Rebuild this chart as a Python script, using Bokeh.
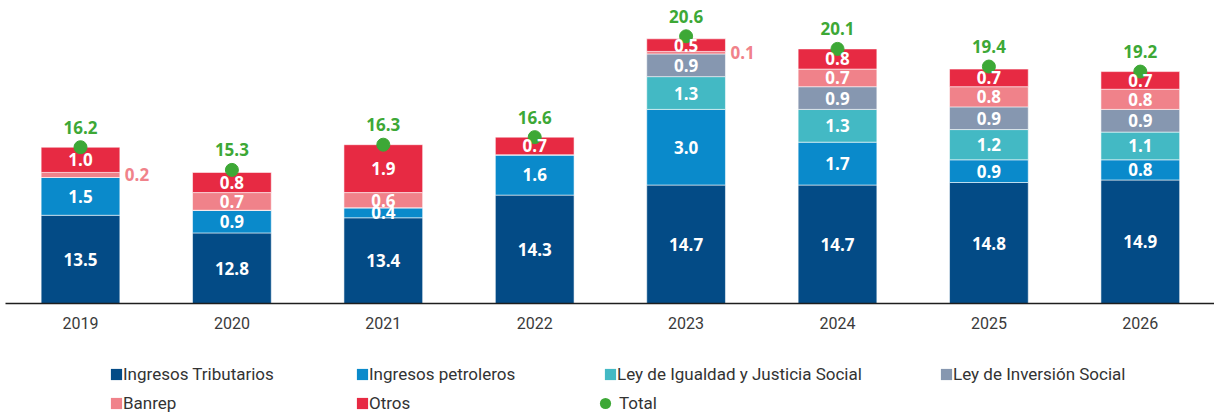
from bokeh.plotting import figure
from bokeh.layouts import column
from bokeh.models import ColumnDataSource, Range1d, FixedTicker, Legend, LegendItem
from bokeh.embed import file_html
from bokeh.resources import INLINE
from bokeh.core.properties import value

years = [2019, 2020, 2021, 2022, 2023, 2024, 2025, 2026]
tributarios = [13.5, 12.8, 13.4, 14.3, 14.7, 14.7, 14.8, 14.9]
petroleros = [1.5, 0.9, 0.4, 1.6, 3.0, 1.7, 0.9, 0.8]
igualdad = [0, 0, 0, 0, 1.3, 1.3, 1.2, 1.1]
inversion = [0, 0, 0, 0, 0.9, 0.9, 0.9, 0.9]
banrep = [0.2, 0.7, 0.6, 0, 0.1, 0.7, 0.8, 0.8]
otros = [1.0, 0.8, 1.9, 0.7, 0.5, 0.8, 0.7, 0.7]
total = [16.2, 15.3, 16.3, 16.6, 20.6, 20.1, 19.4, 19.2]

series_keys = ["trib", "petro", "igual", "inver", "banrep", "otros"]
series_names = ["Ingresos Tributarios", "Ingresos petroleros",
                "Ley de Igualdad y Justicia Social", "Ley de Inversión Social",
                "Banrep", "Otros"]
series_vals = [tributarios, petroleros, igualdad, inversion, banrep, otros]
colors = ["#034b86", "#0a8acb", "#43b9c4", "#8697b0", "#f0828a", "#e72a43"]
green = "#3da836"
pink = "#f0828a"

FONT = "Open Sans"
LFONT = "Roboto"

data = {"x": years}
for k, v in zip(series_keys, series_vals):
    data[k] = v
src = ColumnDataSource(data)

Y0 = 10
p = figure(width=1214, height=355,
           x_range=Range1d(2018.5046, 2026.4901), y_range=Range1d(Y0, 22.02),
           output_backend="svg", toolbar_location=None,
           min_border_left=5, min_border_right=0, min_border_top=0, min_border_bottom=52,
           y_axis_location=None, outline_line_color=None)
p.xgrid.visible = False
p.ygrid.visible = False

bar_w = 0.52
rends = p.vbar_stack(series_keys, x="x", width=bar_w, source=src,
                     fill_color=colors, line_color="white", line_width=0.8, line_alpha=0.7)

# segment labels (centred on the visible part of each segment)
lx, ly, lt = [], [], []
ox, oy, ot = [], [], []
for i, yr in enumerate(years):
    cum = 0.0
    for k, vals in zip(series_keys, series_vals):
        v = vals[i]
        if v > 0:
            c = (max(cum, Y0) + cum + v) / 2
            if k == "banrep" and v < 0.3:
                ox.append(yr + bar_w / 2); oy.append(c); ot.append(f"{v:.1f}")
            else:
                lx.append(yr); ly.append(c); lt.append(f"{v:.1f}")
        cum += v

t1 = p.text(x=lx, y=ly, text=lt, text_align="center", text_baseline="middle",
            text_color="white", text_font=value(FONT), text_font_style="bold",
            text_font_size="17px")
t1.level = "overlay"
t2 = p.text(x=ox, y=oy, text=ot, text_align="left", text_baseline="middle",
            x_offset=5, text_color=pink, text_font=value(FONT), text_font_style="bold",
            text_font_size="17px")
t2.level = "overlay"

dots = p.scatter(x=years, y=total, size=13, color=green)
t3 = p.text(x=years, y=total, text=[f"{v:.1f}" for v in total], y_offset=-20,
            text_align="center", text_baseline="middle", text_color=green,
            text_font=value(FONT), text_font_style="bold", text_font_size="17px")
t3.level = "overlay"

ax = p.xaxis[0]
ax.ticker = FixedTicker(ticks=years)
ax.major_label_text_font = LFONT
ax.major_label_text_font_size = "16px"
ax.major_label_text_color = "#3a3a3a"
ax.axis_line_color = "#1e1e1e"
ax.axis_line_width = 1.5
ax.major_tick_line_color = None
ax.minor_tick_line_color = None
ax.major_label_standoff = 7

# legend strip (swatch glyphs sit outside its visible ranges; only the legend shows)
lg = figure(width=1214, height=60, x_range=Range1d(0, 1), y_range=Range1d(0, 1),
            output_backend="svg", toolbar_location=None,
            min_border_left=0, min_border_right=0, min_border_top=0, min_border_bottom=0,
            x_axis_location=None, y_axis_location=None, outline_line_color=None)
lg.xgrid.visible = False
lg.ygrid.visible = False
swatch = {}
for name, c in zip(series_names, colors):
    swatch[name] = lg.vbar(x=[-5], top=[-5], bottom=[-6], width=0.1,
                           fill_color=c, line_color=None)
swatch["Total"] = lg.scatter(x=[-5], y=[-5], size=5, marker="circle",
                             fill_color=green, line_color=None)

# (name, x of swatch box, row)
legend_pos = [
    ("Ingresos Tributarios", 104, 0),
    ("Ingresos petroleros", 350, 0),
    ("Ley de Igualdad y Justicia Social", 598, 0),
    ("Ley de Inversión Social", 934, 0),
    ("Banrep", 104, 1),
    ("Otros", 350, 1),
]
ROW_CENTER = [41, 12]   # distance of each row's centre from the strip bottom
LH = 20
GS = 14
for name, xloc, row in legend_pos:
    leg = Legend(items=[LegendItem(label=name, renderers=[swatch[name]])],
                 location=(xloc, ROW_CENTER[row] - LH // 2), orientation="vertical",
                 glyph_width=GS, glyph_height=GS, label_standoff=0,
                 label_height=LH, spacing=0, padding=0, margin=0,
                 label_text_font=LFONT, label_text_font_size="17px",
                 label_text_color="#333333", background_fill_alpha=0,
                 border_line_color=None)
    lg.add_layout(leg, "center")

G = 28
leg_t = Legend(items=[LegendItem(label="Total", renderers=[swatch["Total"]])],
               location=(586, ROW_CENTER[1] - G // 2), orientation="vertical",
               glyph_width=G, glyph_height=G, label_standoff=0,
               label_height=G, spacing=0, padding=0, margin=0,
               label_text_font=LFONT, label_text_font_size="17px",
               label_text_color="#333333", background_fill_alpha=0,
               border_line_color=None)
lg.add_layout(leg_t, "center")

open("out.html", "w").write(file_html(column(p, lg), INLINE))
